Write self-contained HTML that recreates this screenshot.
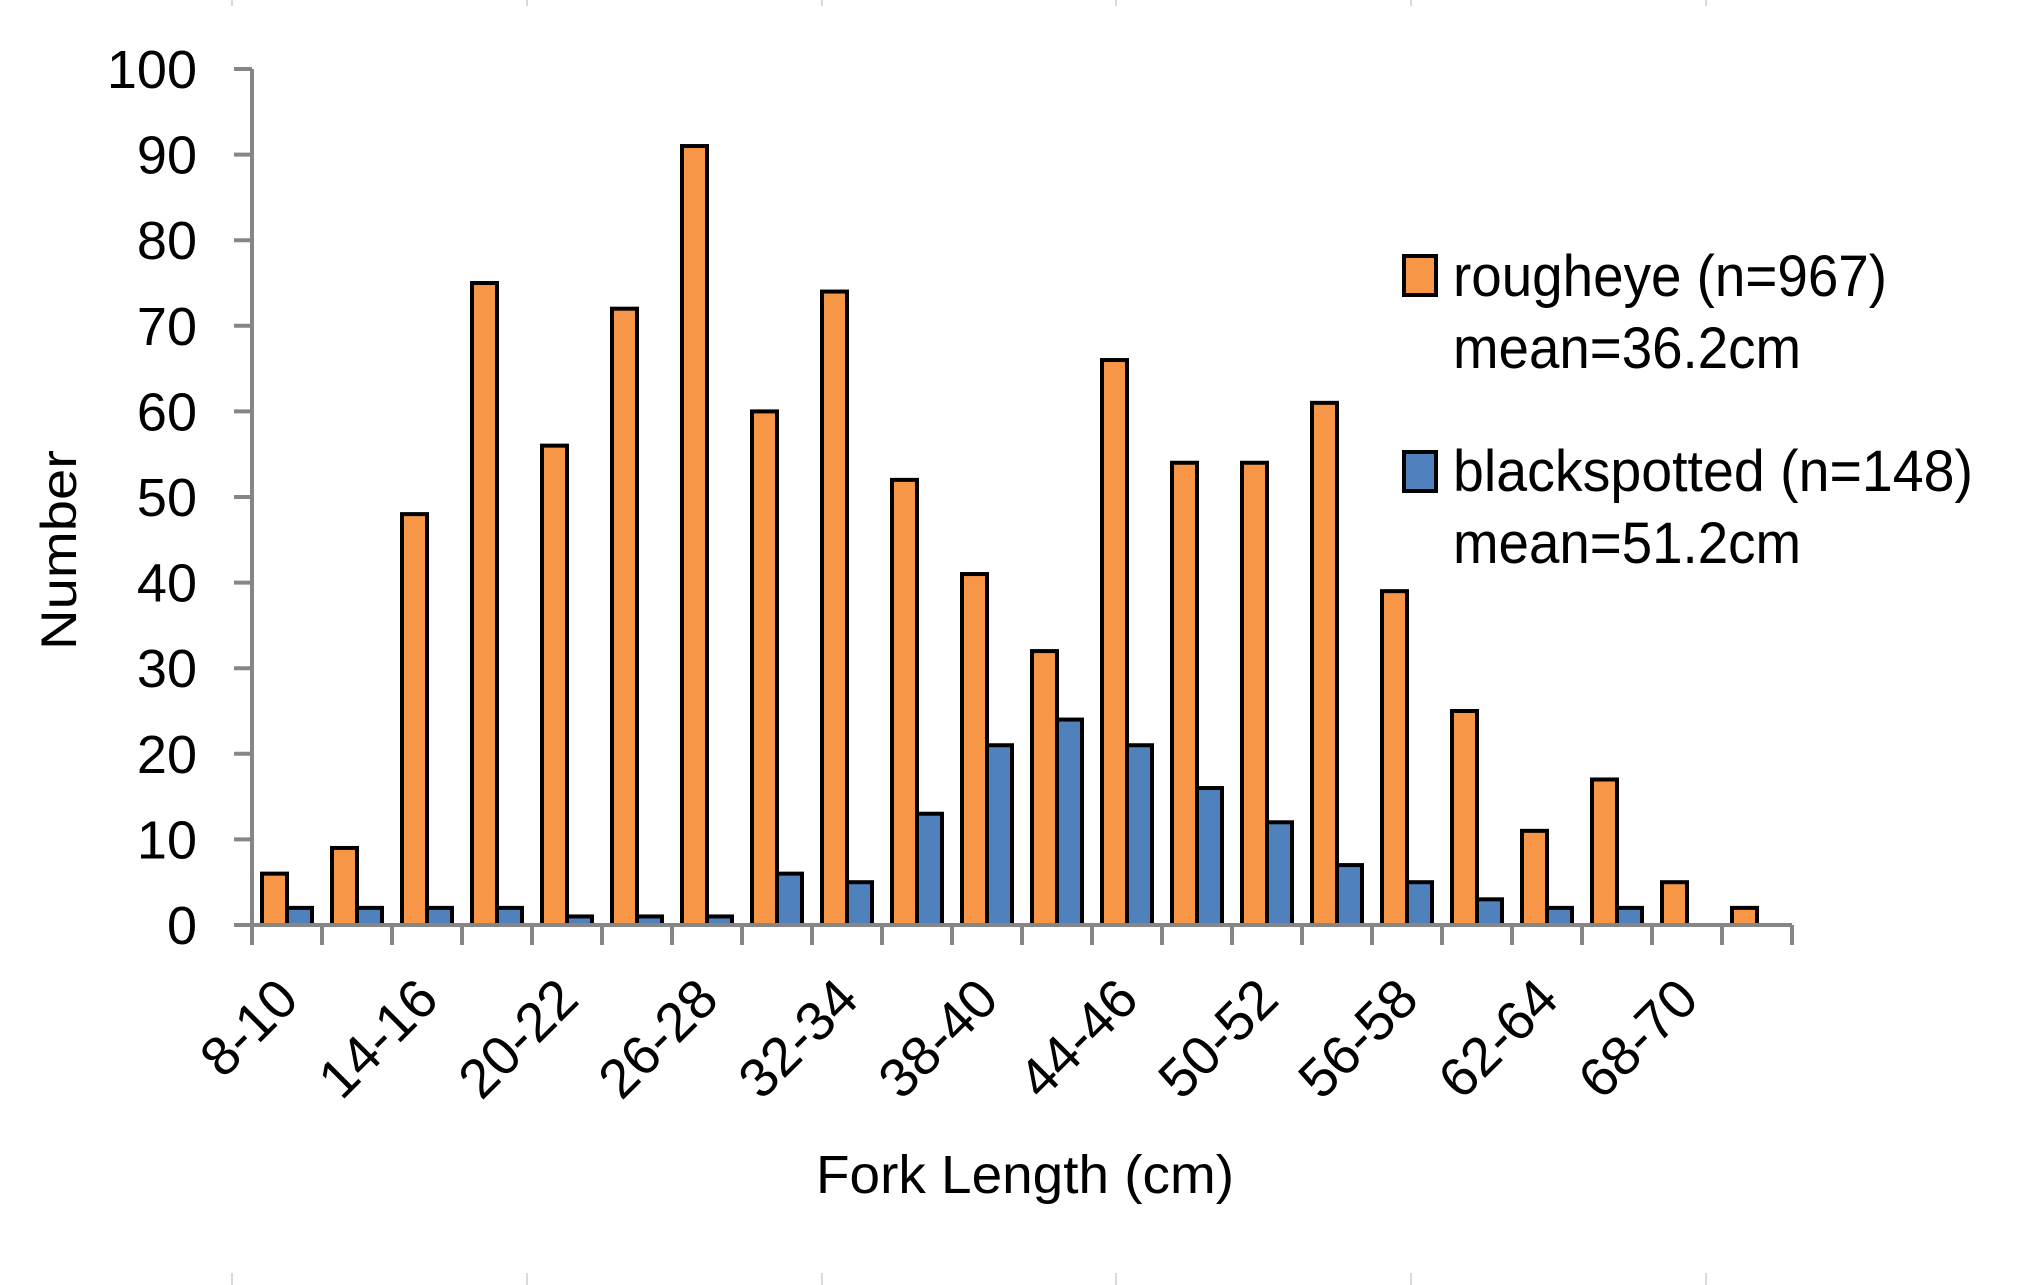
<!DOCTYPE html>
<html><head><meta charset="utf-8"><style>
html,body{margin:0;padding:0;background:#fff;}
svg{display:block;font-family:"Liberation Sans",sans-serif;}
</style></head><body>
<svg id="chart" width="2020" height="1285" viewBox="0 0 2020 1285">
<g id="deco"></g>
<g id="bars"></g>
<g id="axes"></g>
<text x="0" y="0" transform="translate(76,550) rotate(-90)" text-anchor="middle" font-size="50" textLength="200" lengthAdjust="spacingAndGlyphs">Number</text>
<text x="1025" y="1193" text-anchor="middle" font-size="54" textLength="418" lengthAdjust="spacingAndGlyphs">Fork Length (cm)</text>
<g>
<rect x="1404" y="256" width="32" height="39" fill="#F79646" stroke="#000" stroke-width="4"/>
<text x="1453" y="296" font-size="58" textLength="434" lengthAdjust="spacingAndGlyphs">rougheye (n=967)</text>
<text x="1453" y="368" font-size="58" textLength="348" lengthAdjust="spacingAndGlyphs">mean=36.2cm</text>
<rect x="1404" y="452" width="32" height="39" fill="#4F81BD" stroke="#000" stroke-width="4"/>
<text x="1453" y="491" font-size="58" textLength="520" lengthAdjust="spacingAndGlyphs">blackspotted (n=148)</text>
<text x="1453" y="563" font-size="58" textLength="348" lengthAdjust="spacingAndGlyphs">mean=51.2cm</text>
</g>
</svg>
<script>
const categories = ["8-10","11-13","14-16","17-19","20-22","23-25","26-28","29-31","32-34","35-37","38-40","41-43","44-46","47-49","50-52","53-55","56-58","59-61","62-64","65-67","68-70","71-73"];
const rougheye = [6,9,48,75,56,72,91,60,74,52,41,32,66,54,54,61,39,25,11,17,5,2];
const blackspotted = [2,2,2,2,1,1,1,6,5,13,21,24,21,16,12,7,5,3,2,2,0,0];
const yTicks = [0,10,20,30,40,50,60,70,80,90,100];

const NS="http://www.w3.org/2000/svg";
const X0=252, SLOT=70, Y0=925, YTOP=69, YMAX=100;
const n=categories.length;
const X1=X0+n*SLOT;
function x(i){return X0+i*SLOT;}
function y(v){return Y0-(v/YMAX)*(Y0-YTOP);}
function mk(tag,attrs,parent){const e=document.createElementNS(NS,tag);for(const k in attrs)e.setAttribute(k,attrs[k]);parent.appendChild(e);return e;}

const deco=document.getElementById('deco');
[232,527,822,1116,1411,1706].forEach(px=>{
  const l1=mk('line',{x1:px,y1:0,x2:px,y2:6,stroke:'#ccc','stroke-width':1.5},deco);
  
  
  const l2=mk('line',{x1:px,y1:1273,x2:px,y2:1285,stroke:'#ccc','stroke-width':1.5},deco);
  
  
});

const bars=document.getElementById('bars');
const BW=25;
for(let i=0;i<n;i++){
  const bx=x(i)+10;
  const r=mk('rect',{x:bx,y:y(rougheye[i]),width:BW,height:Y0-y(rougheye[i]),fill:'#F79646',stroke:'#000','stroke-width':4},bars);
  
  
  if(blackspotted[i]>0){
    const b=mk('rect',{x:bx+BW,y:y(blackspotted[i]),width:BW,height:Y0-y(blackspotted[i]),fill:'#4F81BD',stroke:'#000','stroke-width':4},bars);
    
    
  }
}

const axes=document.getElementById('axes');
const ya=mk('line',{x1:X0,y1:YTOP,x2:X0,y2:Y0,stroke:'#868686','stroke-width':4},axes);


yTicks.forEach(v=>{
  const t=mk('line',{x1:X0-18,y1:y(v),x2:X0,y2:y(v),stroke:'#868686','stroke-width':4},axes);
  
  
  const lb=mk('text',{x:197,y:y(v)+19,'text-anchor':'end','font-size':54},axes);
  lb.textContent=String(v);
  
  
});
const xa=mk('line',{x1:X0,y1:Y0,x2:X1,y2:Y0,stroke:'#868686','stroke-width':4},axes);


for(let i=0;i<=n;i++){
  const t=mk('line',{x1:x(i),y1:Y0,x2:x(i),y2:Y0+20,stroke:'#868686','stroke-width':4},axes);
  
  
}
for(let i=0;i<n;i+=2){
  const cx=x(i)+SLOT/2+14;
  const lb=mk('text',{x:0,y:0,'text-anchor':'end','font-size':55,transform:'translate('+cx+',1002) rotate(-45)'},axes);
  lb.textContent=categories[i];
  
  
}
</script>
</body></html>
